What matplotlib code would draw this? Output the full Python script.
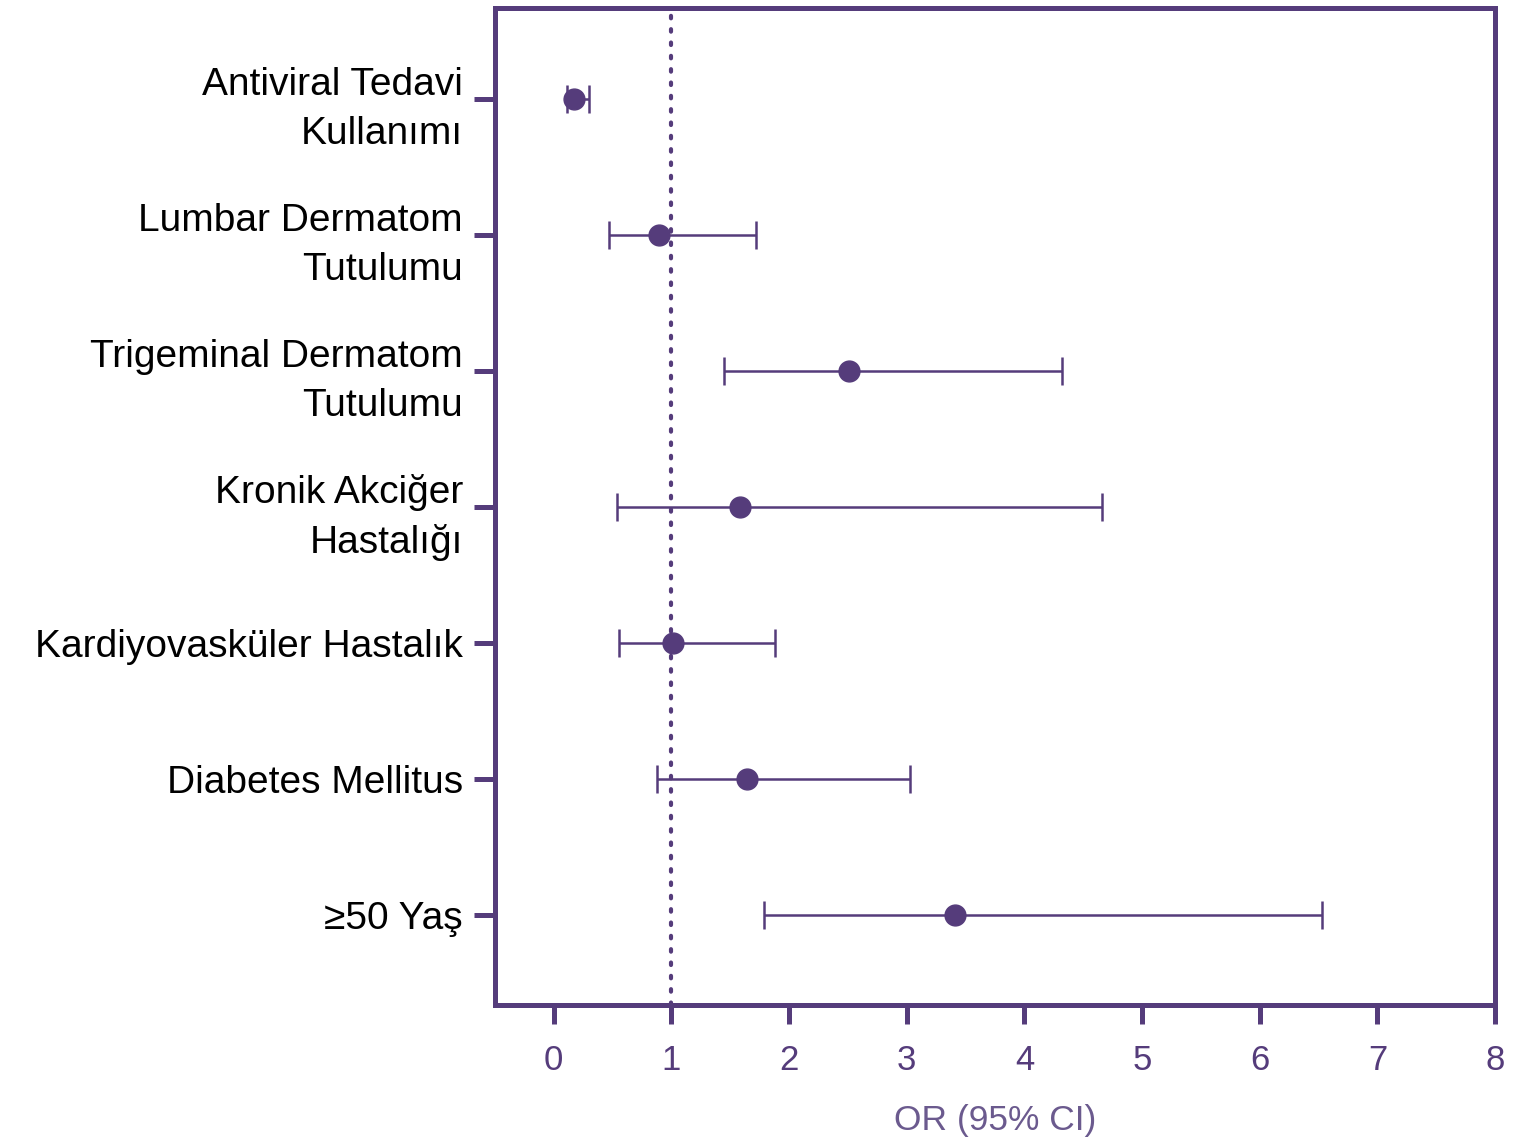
import numpy as np
import matplotlib
matplotlib.use("Agg")
from matplotlib import pyplot as plt
from matplotlib import font_manager

# the reference labels look like a condensed Arial
names = {f.name for f in font_manager.fontManager.ttflist}
if 'Liberation Sans Narrow' in names:
    label_font, label_size = 'Liberation Sans Narrow', 34
else:
    label_font, label_size = 'Liberation Sans', 28

plt.rcParams['font.family'] = ['Liberation Sans', 'DejaVu Sans']

labels = ['Antiviral Tedavi\nKullanımı', 'Lumbar Dermatom\nTutulumu', 'Trigeminal Dermatom\nTutulumu',
          'Kronik Akciğer\nHastalığı', 'Kardiyovasküler Hastalık', 'Diabetes Mellitus', '≥50 Yaş']
odds = [0.17, 0.89, 2.51, 1.58, 1.01, 1.64, 3.41]
ci_low = [0.11, 0.47, 1.45, 0.54, 0.55, 0.88, 1.79]
ci_high = [0.30, 1.72, 4.32, 4.66, 1.88, 3.03, 6.53]

purple = '#553C7B'

fig = plt.figure(figsize=(15.16, 11.47), dpi=100)
ax = fig.add_axes([0.3265, 0.124, 0.6597, 0.869])

y = np.arange(len(labels))
odds = np.array(odds)
err = [odds - np.array(ci_low), np.array(ci_high) - odds]
ax.errorbar(odds, y, xerr=err, fmt='o', color=purple, ms=15, elinewidth=1.8,
            capsize=10, capthick=1.8, zorder=3)
ax.axvline(1, color=purple, linestyle=(0, (0.6, 2.6)), linewidth=3, dash_capstyle='round', zorder=2)

ax.set_xlim(-0.5, 8)
ax.set_ylim(6.66, -0.67)
ax.set_xticks(range(0, 9))
ax.set_yticks(y)
ax.set_yticklabels(labels, fontsize=label_size, color='black', linespacing=1.45,
                   family=[label_font, 'DejaVu Sans'])
for t in ax.get_yticklabels():
    t.set_horizontalalignment('right')
ax.tick_params(axis='x', colors=purple, labelsize=25, length=14, width=3.6, pad=14)
ax.tick_params(axis='y', color=purple, length=15, width=3.6, pad=8)
for s in ax.spines.values():
    s.set_color(purple)
    s.set_linewidth(3.6)
ax.set_xlabel('OR (95% CI)', fontsize=25.5, color='#6B5A8E', labelpad=20)

fig.savefig('out.png', dpi=100)
